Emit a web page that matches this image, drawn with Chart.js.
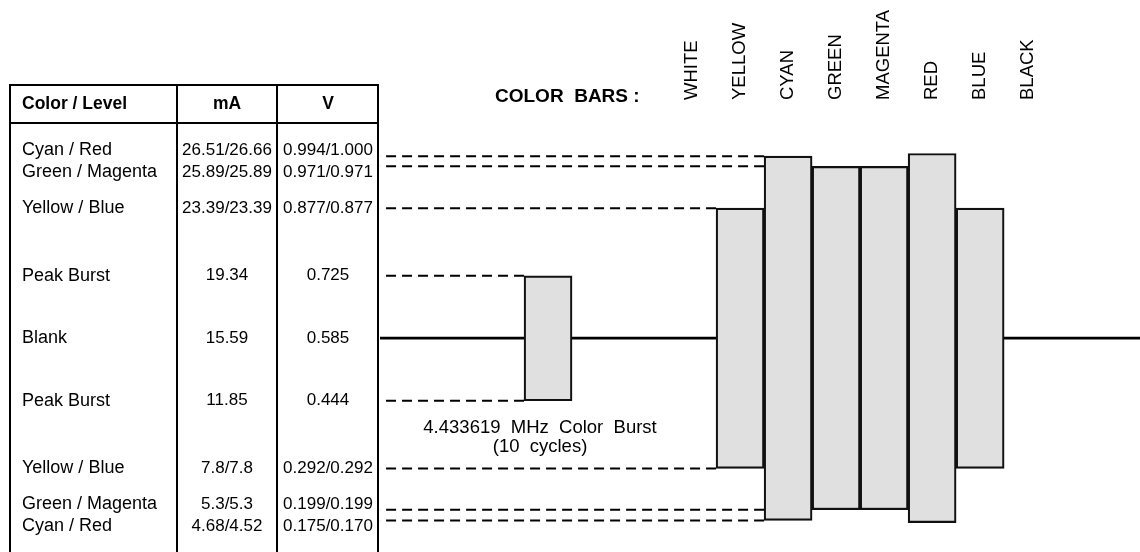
<!DOCTYPE html>
<html>
<head>
<meta charset="utf-8">
<title>PAL colour bars</title>
<script src="https://cdn.jsdelivr.net/npm/chart.js@4"></script>
<style>
  html, body { margin: 0; padding: 0; background: #fff; }
  #wrap { width: 1140px; height: 552px; position: relative; }
</style>
</head>
<body>
<div id="wrap"><canvas id="chart"></canvas></div>
<script>
// colour bar columns, left to right
const barNames = ['WHITE', 'YELLOW', 'CYAN', 'GREEN', 'MAGENTA', 'RED', 'BLUE', 'BLACK'];
const barHighV = [null, 0.877, 0.994, 0.971, 0.971, 1.000, 0.877, null];
const barLowV  = [null, 0.292, 0.175, 0.199, 0.199, 0.170, 0.292, null];

// table rows (top to bottom)
const levelNames = ['Cyan / Red', 'Green / Magenta', 'Yellow / Blue', 'Peak Burst', 'Blank',
                    'Peak Burst', 'Yellow / Blue', 'Green / Magenta', 'Cyan / Red'];
const levelMA = ['26.51/26.66', '25.89/25.89', '23.39/23.39', '19.34', '15.59',
                 '11.85', '7.8/7.8', '5.3/5.3', '4.68/4.52'];
const levelV = ['0.994/1.000', '0.971/0.971', '0.877/0.877', '0.725', '0.585',
                '0.444', '0.292/0.292', '0.199/0.199', '0.175/0.170'];

const blankV = 0.585;
const burstV = [0.444, 0.725];
const burstCaption = ['4.433619  MHz  Color  Burst', '(10  cycles)'];

const BURST_SLOT = -3;
const X_MIN = -6.5, X_MAX = 9.33;
const FONT = '"Liberation Sans", Arial, Helvetica, sans-serif';

// first level value of each row drives where it sits on the V axis
const levelValue = levelV.map(s => parseFloat(s.split('/')[0]));

// dashed reference lines run from the table to the first shape that reaches the level
function targetEdge(v) {
  const tol = 0.01;
  if (v >= burstV[0] - tol && v <= burstV[1] + tol) return BURST_SLOT - 0.5;
  for (let i = 0; i < barNames.length; i++) {
    if (barHighV[i] == null) continue;
    if (v >= barLowV[i] - tol && v <= barHighV[i] + tol) return i - 0.5;
  }
  return X_MAX;
}

// keep table text rows from overlapping where levels sit close together
function spreadRows(ys, gap) {
  const out = ys.slice();
  for (let pass = 0; pass < 20; pass++) {
    for (let i = 1; i < out.length; i++) {
      const d = out[i] - out[i - 1];
      if (d < gap) {
        const push = (gap - d) / 2;
        out[i - 1] -= push;
        out[i] += push;
      }
    }
  }
  return out;
}

// drawn from the shape back toward the table so a dash always touches the shape
const dashedSets = levelValue
  .filter(v => v !== blankV)
  .map(v => ({
    type: 'line',
    data: [{ x: targetEdge(v), y: v }, { x: X_MIN, y: v }],
    borderColor: '#000',
    borderWidth: 2,
    borderDash: [10, 6],
    pointRadius: 0,
    order: 5
  }));

const colorBarData = barNames
  .map((n, i) => barHighV[i] == null ? null : { x: i, y: [barLowV[i], barHighV[i]] })
  .filter(Boolean);

const barStyle = {
  backgroundColor: '#e0e0e0',
  borderColor: '#111',
  borderWidth: 2.2,
  borderSkipped: false,
  barPercentage: 1,
  categoryPercentage: 1,
  grouped: false
};

const diagramPlugin = {
  id: 'diagram',
  afterDraw(chart) {
    const { ctx, scales: { x, y } } = chart;
    ctx.save();
    ctx.fillStyle = '#000';
    ctx.strokeStyle = '#000';

    // table frame
    const cols = [10, 177, 277, 378];
    const top = 85, headBottom = 123, bottom = chart.height;
    ctx.lineWidth = 2;
    ctx.beginPath();
    cols.forEach(cx => { ctx.moveTo(cx, top); ctx.lineTo(cx, bottom); });
    ctx.moveTo(cols[0] - 1, top); ctx.lineTo(cols[3] + 1, top);
    ctx.moveTo(cols[0] - 1, headBottom); ctx.lineTo(cols[3] + 1, headBottom);
    ctx.stroke();

    ctx.textBaseline = 'middle';
    ctx.font = 'bold 17.5px ' + FONT;
    ctx.textAlign = 'left';
    ctx.fillText('Color / Level', 22, 104);
    ctx.textAlign = 'center';
    ctx.fillText('mA', 227, 104);
    ctx.fillText('V', 328, 104);

    const rowY = spreadRows(levelValue.map(v => y.getPixelForValue(v)), 22);
    levelNames.forEach((name, i) => {
      ctx.font = '18px ' + FONT;
      ctx.textAlign = 'left';
      ctx.fillText(name, 22, rowY[i]);
      ctx.font = '17px ' + FONT;
      ctx.textAlign = 'center';
      ctx.fillText(levelMA[i], 227, rowY[i]);
      ctx.fillText(levelV[i], 328, rowY[i]);
    });

    // heading and rotated column names
    ctx.font = 'bold 19px ' + FONT;
    ctx.textAlign = 'left';
    ctx.fillText('COLOR  BARS :', 495, 97);

    ctx.font = '18.5px ' + FONT;
    barNames.forEach((name, i) => {
      ctx.save();
      ctx.translate(x.getPixelForValue(i), 100);
      ctx.rotate(-Math.PI / 2);
      ctx.textAlign = 'left';
      ctx.fillText(name, 0, 0);
      ctx.restore();
    });

    // burst caption
    const bx = x.getPixelForValue(BURST_SLOT) - 8;
    const by = y.getPixelForValue(burstV[0]);
    ctx.font = '18.5px ' + FONT;
    ctx.textAlign = 'center';
    ctx.fillText(burstCaption[0], bx, by + 27);
    ctx.fillText(burstCaption[1], bx, by + 46);
    ctx.restore();
  }
};

new Chart(document.getElementById('chart'), {
  type: 'bar',
  data: {
    datasets: [
      Object.assign({ label: 'Color bars', data: colorBarData, order: 1 }, barStyle),
      Object.assign({ label: 'Burst', data: [{ x: BURST_SLOT, y: burstV }], order: 1 }, barStyle),
      {
        type: 'line',
        label: 'Blank',
        data: [{ x: X_MIN, y: blankV }, { x: X_MAX, y: blankV }],
        borderColor: '#000',
        borderWidth: 2.8,
        pointRadius: 0,
        order: 10
      },
      ...dashedSets
    ]
  },
  options: {
    responsive: true,
    maintainAspectRatio: false,
    animation: false,
    devicePixelRatio: 1,
    layout: { padding: { left: 380, right: 0, top: 0, bottom: 0 } },
    plugins: { legend: { display: false }, tooltip: { enabled: false } },
    scales: {
      x: { type: 'linear', min: X_MIN, max: X_MAX, offset: false, display: false },
      y: { type: 'linear', min: 0.104, max: 1.345, display: false }
    }
  },
  plugins: [diagramPlugin]
});
</script>
</body>
</html>
